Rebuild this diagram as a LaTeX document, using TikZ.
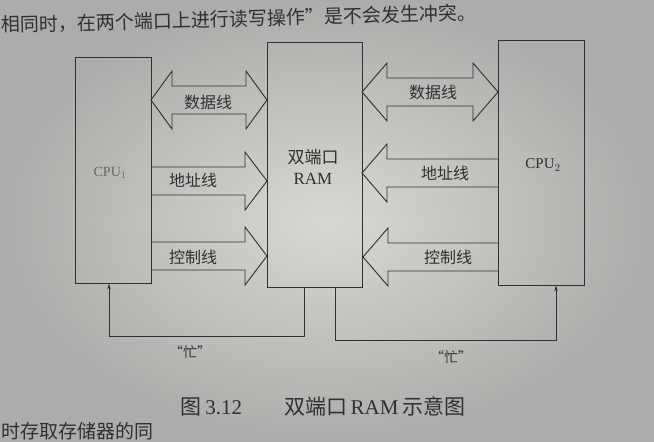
\documentclass[tikz,border=0pt]{standalone}
\usepackage{fontspec}
\setmainfont{Liberation Serif}
\newfontfamily\cjk{Noto Sans CJK SC}
\usetikzlibrary{arrows.meta}

\definecolor{inkc}{RGB}{48,48,48}
\definecolor{paperin}{RGB}{216,216,213}
\definecolor{paperout}{RGB}{172,172,170}

% single-headed bus arrow: #1 open end x, #2 tip x, #3 centre y, #4 signed head length
\newcommand\busone[4]{%
  \draw[bus] ({#1},{#3-14}) -- ({#2-(#4)},{#3-14}) -- ({#2-(#4)},{#3-29})
    -- ({#2},{#3}) -- ({#2-(#4)},{#3+29}) -- ({#2-(#4)},{#3+14}) -- ({#1},{#3+14});}
% double-headed bus arrow between tips #1 (left) and #2 (right) at centre y #3, head length #4
\newcommand\bustwo[4]{%
  \draw[bus] ({#1},{#3}) -- ({#1+#4},{#3-29}) -- ({#1+#4},{#3-14})
    -- ({#2-#4},{#3-14}) -- ({#2-#4},{#3-29}) -- ({#2},{#3})
    -- ({#2-#4},{#3+29}) -- ({#2-#4},{#3+14}) -- ({#1+#4},{#3+14})
    -- ({#1+#4},{#3+29}) -- cycle;}

\begin{document}
\begin{tikzpicture}[x=1pt,y=-1pt,
  ink/.style={draw=inkc, line width=0.9pt},
  box/.style={ink, inner sep=0pt},
  bus/.style={ink, line join=miter},
  lab/.style={text=inkc, inner sep=0pt, font=\cjk\fontsize{16}{16}\selectfont},
  busy/.style={ink, -{Stealth[length=6pt,width=3.5pt]}},
  para/.style={text=inkc, inner sep=0pt, font=\cjk\fontsize{19}{19}\selectfont},
]
% paper
\useasboundingbox (0,0) rectangle (654,442);
\shade[inner color=paperin, outer color=paperout] (0,0) rectangle (654,442);

% running text of the page
\node[para, anchor=base west, rotate=1.5] (ln1) at (1,32)
  {相同时，在两个端口上进行读写操作”是不会发生冲突。};
\node[para, anchor=base west] (ln2) at (1,438) {时存取存储器的同};

% blocks
\node[box, minimum width=76pt, minimum height=226pt] (cpu1) at (113,170) {};
\node[box, minimum width=95pt, minimum height=245pt] (ram) at (314.5,164.5) {};
\node[box, minimum width=86pt, minimum height=245pt] (cpu2) at (541,162.5) {};

\node[text=inkc!75, font=\fontsize{14}{14}\selectfont] (c1) at (110,173) {CPU$_1$};
\node[text=inkc, font=\fontsize{15}{15}\selectfont] (c2) at (543,165) {CPU$_2$};
\node[lab, font=\cjk\fontsize{17}{17}\selectfont] (r1) at (313,157) {双端口};
\node[text=inkc, font=\fontsize{17}{17}\selectfont] (r2) at (313,179) {RAM};

% buses between CPU1 and the RAM
\bustwo{151}{267}{100}{21}
\busone{151}{267}{181}{22}
\busone{151}{267}{256}{22}
\node[lab] (d1) at (208,102) {数据线};
\node[lab] (a1) at (193,180) {地址线};
\node[lab] (k1) at (193,257) {控制线};

% buses between CPU2 and the RAM
\bustwo{362}{498}{92}{25}
\busone{498}{362}{173}{-25}
\busone{498}{363}{257}{-25}
\node[lab] (d2) at (433,92) {数据线};
\node[lab] (a2) at (445,173) {地址线};
\node[lab] (k2) at (448,257) {控制线};

% busy signals
\coordinate (p1) at (304,336);
\coordinate (q1) at (109,336);
\coordinate (p2) at (335,340);
\coordinate (q2) at (556,340);
\draw[busy] (ram.south -| p1) -- (p1) -- (q1) -- (cpu1.south -| q1);
\draw[busy] (ram.south -| p2) -- (p2) -- (q2) -- (cpu2.south -| q2);
\node[text=inkc, font=\cjk\fontsize{14}{14}\selectfont] (b1) at (190,352) {“忙”};
\node[text=inkc, font=\cjk\fontsize{14}{14}\selectfont] (b2) at (451,357) {“忙”};

% caption
\node[text=inkc, inner sep=0pt, font=\fontsize{21}{21}\selectfont] (cap) at (323,406)
  {{\cjk 图}\,3.12\qquad{\cjk 双端口}\,RAM\,{\cjk 示意图}};
\end{tikzpicture}
\end{document}
